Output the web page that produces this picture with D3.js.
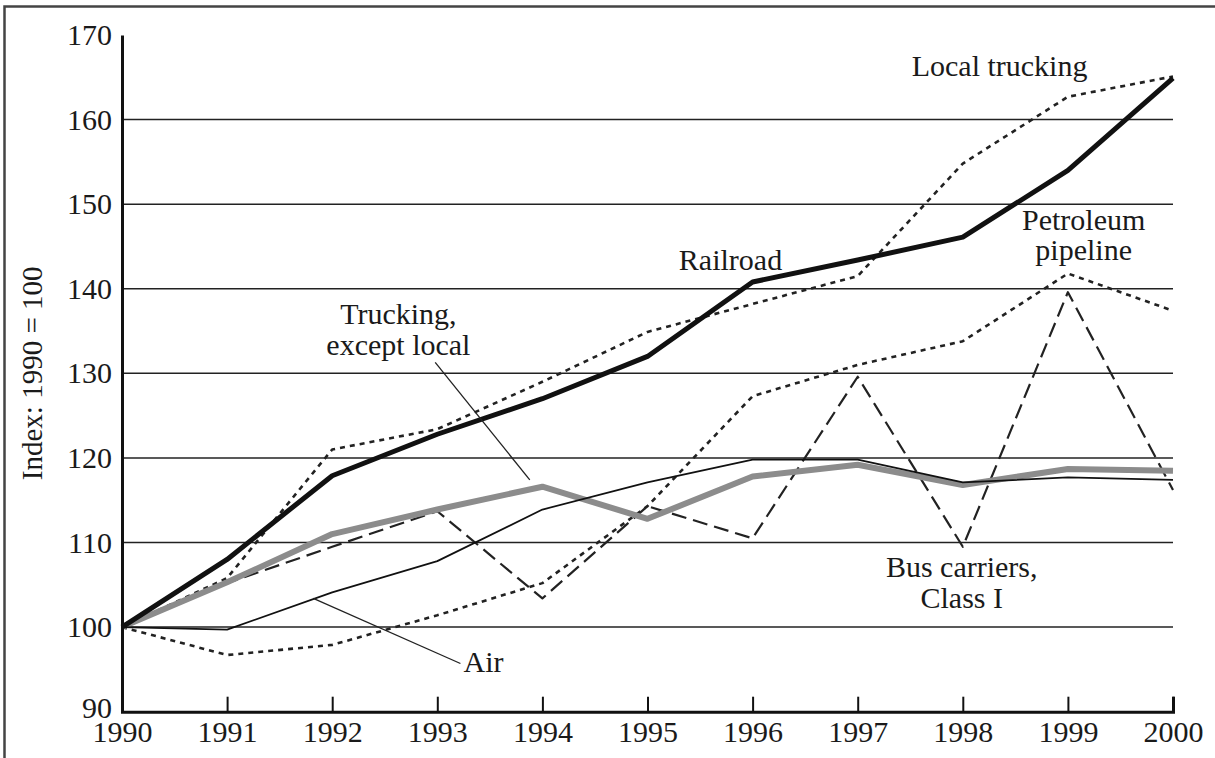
<!DOCTYPE html>
<html>
<head>
<meta charset="utf-8">
<script src="https://cdn.jsdelivr.net/npm/d3@7"></script>
<style>
  html, body { margin: 0; padding: 0; background: #fff; }
  svg { display: block; }
  text { font-family: "Liberation Serif", "DejaVu Serif", serif; fill: #1a1a1a; }
</style>
</head>
<body>
<svg id="chart"></svg>
<script>
// index values, 1990 = 100
const years = [1990, 1991, 1992, 1993, 1994, 1995, 1996, 1997, 1998, 1999, 2000];
const railroad     = [100, 108.0, 117.9, 122.8, 127.0, 132.0, 140.8, 143.4, 146.1, 154.0, 164.9];
const localTruck   = [100, 105.8, 121.0, 123.4, 129.0, 134.9, 138.2, 141.5, 154.8, 162.7, 165.1];
const pipeline     = [100, 96.7, 97.9, 101.4, 105.2, 114.3, 127.3, 131.0, 133.8, 141.8, 137.4];
const busCarriers  = [100, 105.2, 109.5, 113.7, 103.4, 114.3, 110.5, 129.6, 109.5, 139.6, 116.2];
const air          = [100, 99.7, 104.1, 107.8, 113.9, 117.1, 119.8, 119.8, 117.1, 117.7, 117.4];
const truckExLocal = [100, 105.3, 111.0, 113.9, 116.6, 112.8, 117.8, 119.2, 116.8, 118.7, 118.5];

const yTicks = [90, 100, 110, 120, 130, 140, 150, 160, 170];
const gridValues = [100, 110, 120, 130, 140, 150, 160];

// text labels, placed in data units (year, index)
const labels = [
  {lines: ["Local trucking"], year: 1998.35, value: 165.1},
  {lines: ["Railroad"], year: 1995.79, value: 142.2},
  {lines: ["Petroleum", "pipeline"], year: 1999.15, value: 147.0},
  {lines: ["Trucking,", "except local"], year: 1992.63, value: 135.8},
  {lines: ["Bus carriers,", "Class I"], year: 1997.99, value: 105.9},
  {lines: ["Air"], year: 1993.44, value: 94.7}
];
const leaders = [
  [[1992.98, 131.3], [1993.88, 117.4]],
  [[1991.82, 103.4], [1993.22, 95.7]]
];

const width = 1215, height = 758;
const svg = d3.select("#chart").attr("width", width).attr("height", height);

svg.append("rect").attr("width", width).attr("height", height).attr("fill", "#fff");
// page frame (only top and left edges fall inside the picture)
svg.append("rect")
  .attr("x", 4.5).attr("y", 6.5).attr("width", 1400).attr("height", 1000)
  .attr("fill", "none").attr("stroke", "#444").attr("stroke-width", 2.5);

const x = d3.scaleLinear().domain([1990, 2000]).range([122, 1173]);
const y = d3.scaleLinear().domain([90, 170]).range([711.7, 35]);

// grid
svg.append("g").selectAll("line").data(gridValues).join("line")
  .attr("x1", x(1990)).attr("x2", x(2000))
  .attr("y1", d => y(d)).attr("y2", d => y(d))
  .attr("stroke", "#222").attr("stroke-width", 1.5);

// series
const line = d3.line().x((d, i) => x(years[i])).y(d => y(d));
const series = [
  {v: pipeline, stroke: "#222", w: 2.6, dash: "5,5"},
  {v: localTruck, stroke: "#222", w: 2.6, dash: "5,5"},
  {v: busCarriers, stroke: "#222", w: 2.2, dash: "15,7"},
  {v: truckExLocal, stroke: "#8c8c8c", w: 6, dash: null},
  {v: air, stroke: "#111", w: 1.8, dash: null},
  {v: railroad, stroke: "#111", w: 5, dash: null}
];
svg.append("g").selectAll("path").data(series).join("path")
  .attr("d", d => line(d.v))
  .attr("fill", "none")
  .attr("stroke", d => d.stroke)
  .attr("stroke-width", d => d.w)
  .attr("stroke-dasharray", d => d.dash)
  .attr("stroke-linejoin", "round");

// axes
const yAxis = svg.append("g").attr("transform", `translate(${x(1990)},0)`)
  .call(d3.axisLeft(y).tickValues(yTicks).tickSize(0).tickPadding(10).tickFormat(d3.format("d")));
yAxis.select(".domain").attr("stroke", "#111").attr("stroke-width", 3);
yAxis.selectAll("text").style("font-size", "30px").attr("font-family", null).attr("fill", "#1a1a1a");
yAxis.selectAll(".tick").filter(d => d === 90).select("text").attr("dy", "0.2em");

const xAxis = svg.append("g").attr("transform", `translate(0,${y(90)})`)
  .call(d3.axisBottom(x).tickValues(years).tickSize(-15).tickPadding(0).tickFormat(d3.format("d")));
xAxis.select(".domain").attr("stroke", "#111").attr("stroke-width", 3);
xAxis.selectAll(".tick line").attr("stroke", "#111").attr("stroke-width", 2);
xAxis.selectAll(".tick").filter(d => d === 1990).select("line").remove();
xAxis.selectAll("text").style("font-size", "30px").attr("font-family", null)
  .attr("fill", "#1a1a1a").attr("y", 9).attr("dy", "0.72em");

// y axis title
svg.append("text")
  .attr("transform", `translate(42,${(y(90) + y(170)) / 2}) rotate(-90)`)
  .attr("text-anchor", "middle")
  .style("font-size", "29px")
  .text("Index: 1990 = 100");

// annotations
const lab = svg.append("g").selectAll("text").data(labels).join("text")
  .attr("text-anchor", "middle")
  .style("font-size", "30px");
lab.each(function(d) {
  d3.select(this).selectAll("tspan").data(d.lines).join("tspan")
    .attr("x", x(d.year))
    .attr("y", (t, i) => y(d.value) + i * 30.5)
    .text(t => t);
});

svg.append("g").selectAll("line").data(leaders).join("line")
  .attr("x1", d => x(d[0][0])).attr("y1", d => y(d[0][1]))
  .attr("x2", d => x(d[1][0])).attr("y2", d => y(d[1][1]))
  .attr("stroke", "#222").attr("stroke-width", 1.3);
</script>
</body>
</html>
